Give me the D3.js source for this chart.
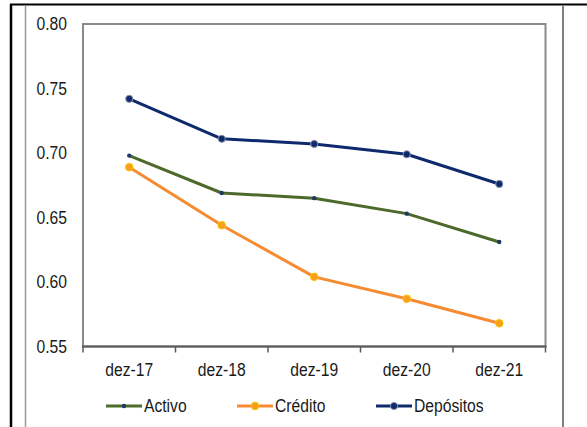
<!DOCTYPE html>
<html>
<head>
<meta charset="utf-8">
<script src="https://cdn.jsdelivr.net/npm/d3@7"></script>
<style>
  html, body { margin: 0; padding: 0; background: #fff; }
  svg { display: block; }
  text { font-family: "Liberation Sans", Arial, sans-serif; fill: #1a1a1a; }
</style>
</head>
<body>
<svg id="chart" width="587" height="427"></svg>
<script>
// Rácios anuais (dez-17 a dez-21)
const categories = ["dez-17", "dez-18", "dez-19", "dez-20", "dez-21"];
const activo    = [0.698, 0.669, 0.665, 0.653, 0.631];
const credito   = [0.689, 0.644, 0.604, 0.587, 0.568];
const depositos = [0.742, 0.711, 0.707, 0.699, 0.676];
const yTicks = [0.55, 0.60, 0.65, 0.70, 0.75, 0.80];

const series = [
  { name: "Activo",    values: activo,    line: "#4d6a2c", dot: "#1f3864", dotStroke: "none",    r: 2.2 },
  { name: "Crédito",   values: credito,   line: "#f58b32", dot: "#f7a01e", dotStroke: "#ffc000", r: 3.8 },
  { name: "Depósitos", values: depositos, line: "#0e2a6c", dot: "#0e2a6c", dotStroke: "#8d95ab", r: 3.6 }
];

const svg = d3.select("#chart");
const SX = 0.87; // horizontal squeeze of the narrow label font

// Outer frame lines
svg.append("line").attr("x1", 10).attr("x2", 587).attr("y1", 4.5).attr("y2", 4.5)
  .attr("stroke", "#000").attr("stroke-width", 2);
svg.append("line").attr("x1", 11).attr("x2", 11).attr("y1", 4).attr("y2", 427)
  .attr("stroke", "#000").attr("stroke-width", 2.5);
svg.append("line").attr("x1", 25.5).attr("x2", 25.5).attr("y1", 5.5).attr("y2", 427)
  .attr("stroke", "#9a9a9a").attr("stroke-width", 1.5);
svg.append("line").attr("x1", 563).attr("x2", 563).attr("y1", 5.5).attr("y2", 427)
  .attr("stroke", "#808080").attr("stroke-width", 2);

const x = d3.scaleBand().domain(categories).range([83, 545.5]).paddingInner(0).paddingOuter(0);
const y = d3.scaleLinear().domain([0.55, 0.80]).range([346.5, 24]);
const cx = c => x(c) + x.bandwidth() / 2;

// Plot area border
svg.append("rect")
  .attr("x", x.range()[0]).attr("y", y(0.80))
  .attr("width", x.range()[1] - x.range()[0]).attr("height", y(0.55) - y(0.80))
  .attr("fill", "none").attr("stroke", "#8a8a8a").attr("stroke-width", 2);

// Y axis labels
const yAxis = svg.append("g").attr("transform", `translate(${x.range()[0]},0)`)
  .call(d3.axisLeft(y).tickValues(yTicks).tickFormat(d3.format(".2f")).tickSize(0).tickPadding(16));
yAxis.select(".domain").remove();
yAxis.selectAll("text")
  .attr("x", -16 / SX).attr("transform", `scale(${SX},1)`)
  .style("font-size", "18px").attr("fill", "#1a1a1a");

// X axis: baseline, category boundary ticks and labels
const xAxis = svg.append("g").attr("transform", `translate(0,${y(0.55)})`)
  .call(d3.axisBottom(x).tickSize(0).tickPadding(17));
xAxis.select(".domain").remove();
xAxis.selectAll(".tick text")
  .attr("transform", `scale(${SX},1)`)
  .style("font-size", "18px").attr("fill", "#1a1a1a")
  .attr("dy", "0.71em");
// tick text sits at the tick's origin; scaling keeps it centred since x = 0
svg.append("line")
  .attr("x1", x.range()[0] - 1).attr("x2", x.range()[1] + 1)
  .attr("y1", y(0.55)).attr("y2", y(0.55))
  .attr("stroke", "#5a5a5a").attr("stroke-width", 2);
const bounds = categories.map(c => x(c)).concat([x(categories[categories.length - 1]) + x.bandwidth()]);
svg.append("g").selectAll("line").data(bounds).join("line")
  .attr("x1", d => d).attr("x2", d => d)
  .attr("y1", y(0.55)).attr("y2", y(0.55) + 6)
  .attr("stroke", "#5a5a5a").attr("stroke-width", 1.5);

// Series lines and markers
const lineGen = d3.line().x((d, i) => cx(categories[i])).y(d => y(d));
series.forEach(s => {
  svg.append("path").datum(s.values)
    .attr("d", lineGen)
    .attr("fill", "none").attr("stroke", s.line).attr("stroke-width", 3)
    .attr("stroke-linejoin", "round");
  svg.append("g").selectAll("circle").data(s.values).join("circle")
    .attr("cx", (d, i) => cx(categories[i])).attr("cy", d => y(d))
    .attr("r", s.r).attr("fill", s.dot)
    .attr("stroke", s.dotStroke).attr("stroke-width", s.dotStroke === "none" ? 0 : 1);
});

// Legend
const legendX = [106, 237, 376];
const legendY = 406;
const legend = svg.append("g").selectAll("g").data(series).join("g")
  .attr("transform", (d, i) => `translate(${legendX[i]},${legendY})`);
legend.append("line").attr("x1", 0).attr("x2", 36).attr("y1", 0).attr("y2", 0)
  .attr("stroke", d => d.line).attr("stroke-width", 3);
legend.append("circle").attr("cx", 18).attr("cy", 0).attr("r", d => d.r)
  .attr("fill", d => d.dot).attr("stroke", d => d.dotStroke)
  .attr("stroke-width", d => d.dotStroke === "none" ? 0 : 1);
legend.append("text")
  .attr("x", 38 / SX).attr("y", 0).attr("dy", "0.36em")
  .attr("transform", `scale(${SX},1)`)
  .style("font-size", "18px")
  .text(d => d.name);
</script>
</body>
</html>
